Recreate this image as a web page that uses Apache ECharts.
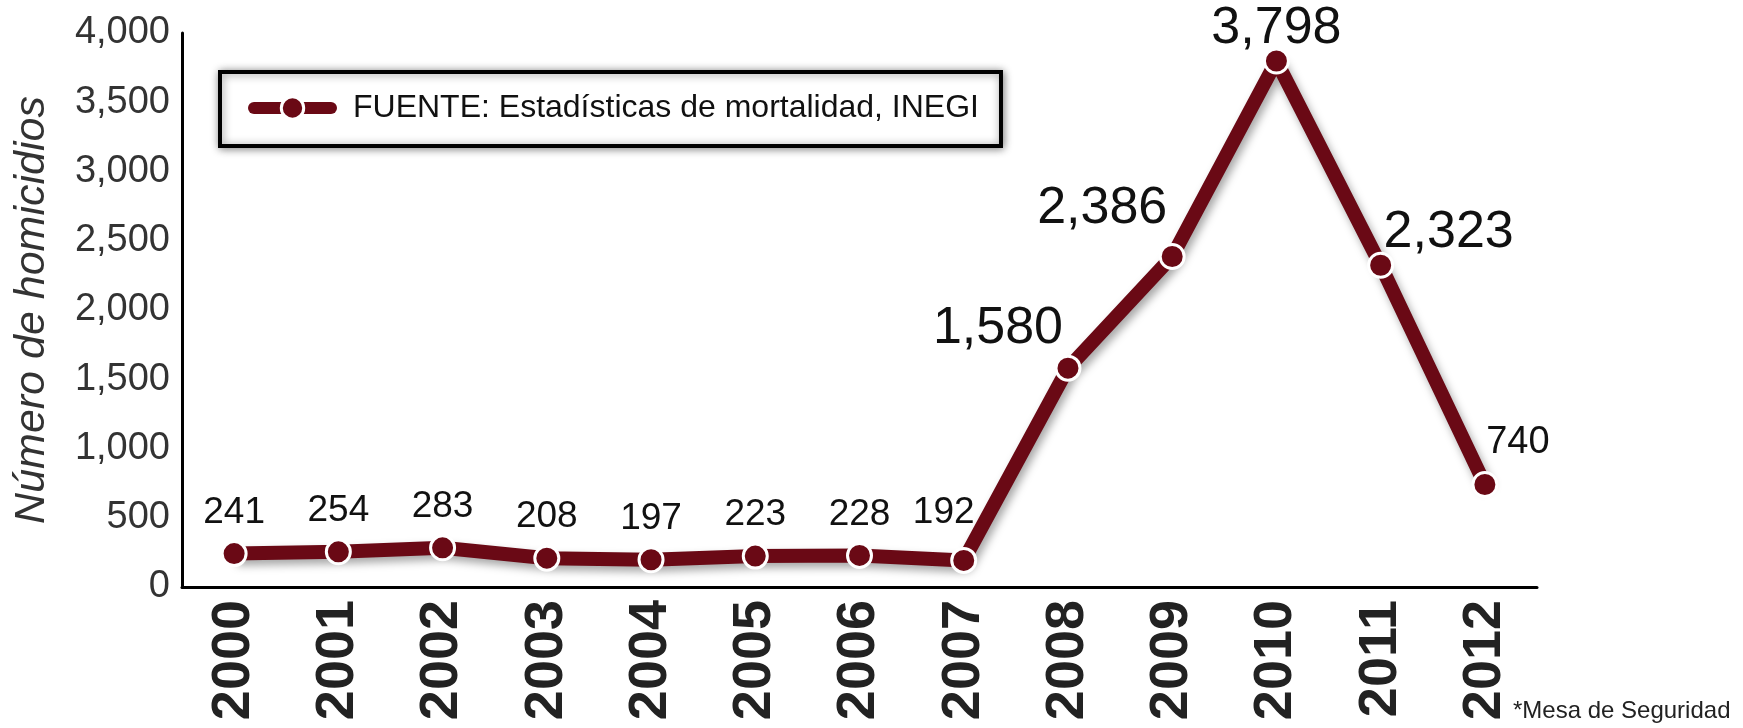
<!DOCTYPE html>
<html>

<head>
    <meta charset="utf-8">
    <script src="https://cdn.jsdelivr.net/npm/echarts@6/dist/echarts.min.js"></script>
    <style>
        html, body { margin: 0; padding: 0; background: #fff; }
        #main { width: 1743px; height: 728px; }
    </style>
</head>

<body>
    <div id="main"></div>
    <script>
        // data
        var years = ['2000', '2001', '2002', '2003', '2004', '2005', '2006', '2007', '2008', '2009', '2010', '2011', '2012'];
        var homicidios = [241, 254, 283, 208, 197, 223, 228, 192, 1580, 2386, 3798, 2323, 740];
        var yTicks = [0, 500, 1000, 1500, 2000, 2500, 3000, 3500, 4000];
        var serieName = 'FUENTE: Estadísticas de mortalidad, INEGI';
        var nota = '*Mesa de Seguridad';

        var maroon = '#6a0915';

        // where each value label sits relative to its point (dx, dy) and how big it is
        var labelPlace = [
            [0, -41, 37], [0, -41, 37], [0, -41, 37], [0, -41, 37], [0, -41, 37],
            [0, -41, 37], [0, -41, 37], [-20, -48, 37],
            [-70, -40, 52], [-70, -48, 52], [0, -32, 52], [68, -33, 52], [33, -42, 38]
        ];

        function fmt(v) {
            return Number(v).toLocaleString('en-US');
        }

        var chart = echarts.init(document.getElementById('main'));

        var points = homicidios.map(function(v, i) {
            var p = labelPlace[i];
            return {
                value: v,
                label: {
                    position: 'inside',
                    offset: [p[0], p[1]],
                    fontSize: p[2]
                }
            };
        });

        var option = {
            animation: false,
            backgroundColor: '#fff',
            textStyle: { fontFamily: 'Liberation Sans, Arial, sans-serif' },
            grid: { left: 182, right: 206, top: 33, bottom: 141 },
            legend: {
                left: 220,
                top: 72,
                orient: 'horizontal',
                padding: [20, 22, 22, 28],
                borderColor: '#000',
                borderWidth: 4,
                backgroundColor: '#fff',
                shadowColor: 'rgba(0,0,0,0.45)',
                shadowBlur: 8,
                shadowOffsetX: 1,
                shadowOffsetY: 1,
                itemWidth: 77,
                itemHeight: 28,
                lineStyle: { width: 12, cap: 'round', color: maroon },
                itemStyle: { color: maroon, borderColor: '#fff', borderWidth: 3 },
                textStyle: { fontSize: 32, color: '#111', padding: [0, 0, 0, 17] },
                data: [serieName]
            },
            xAxis: {
                type: 'category',
                data: years,
                boundaryGap: true,
                axisLine: { lineStyle: { color: '#000', width: 3 } },
                axisTick: { show: false },
                axisLabel: {
                    rotate: 90,
                    margin: 13,
                    fontSize: 54,
                    fontWeight: 'bold',
                    color: '#222',
                    interval: 0
                }
            },
            yAxis: {
                type: 'value',
                min: yTicks[0],
                max: yTicks[yTicks.length - 1],
                interval: yTicks[1] - yTicks[0],
                name: 'Número de homicidios',
                nameLocation: 'middle',
                nameGap: 128,
                nameTextStyle: { fontSize: 43, fontStyle: 'italic', color: '#333' },
                axisLine: { show: true, lineStyle: { color: '#000', width: 3 } },
                axisTick: { show: false },
                splitLine: { show: false },
                axisLabel: {
                    fontSize: 38,
                    color: '#333',
                    margin: 12,
                    formatter: fmt
                }
            },
            graphic: [{
                type: 'text',
                left: 1513,
                top: 699,
                style: { text: nota, fontSize: 24, fill: '#222', fontFamily: 'Liberation Sans, Arial, sans-serif' }
            }],
            series: [{
                name: serieName,
                type: 'line',
                data: points,
                symbol: 'circle',
                symbolSize: 24,
                lineStyle: {
                    color: maroon,
                    width: 14,
                    shadowColor: 'rgba(0,0,0,0.35)',
                    shadowBlur: 8,
                    shadowOffsetX: 3,
                    shadowOffsetY: 5
                },
                itemStyle: {
                    color: maroon,
                    borderColor: '#fff',
                    borderWidth: 3
                },
                label: {
                    show: true,
                    color: '#111',
                    formatter: function(p) { return fmt(p.value); }
                }
            }]
        };

        chart.setOption(option);
    </script>
</body>

</html>
